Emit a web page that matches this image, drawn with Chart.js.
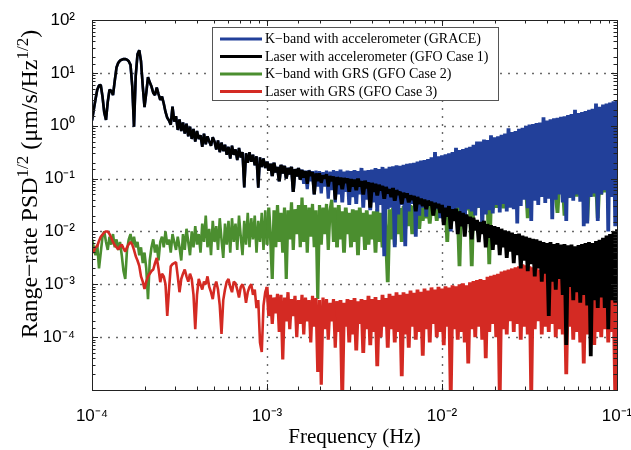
<!DOCTYPE html>
<html>
<head>
<meta charset="utf-8">
<script src="https://cdn.jsdelivr.net/npm/chart.js@4.4.1/dist/chart.umd.min.js"></script>
<style>
  html, body { margin: 0; padding: 0; background: #fff; overflow: hidden; }
  canvas { display: block; }
</style>
</head>
<body>
<canvas id="psd" width="631" height="450"></canvas>
<script>
// Frequency bins: log10(f / Hz) from -4 to -1 in steps of 0.01 (301 bins)
const FREQ_LOG_START = -4;
const FREQ_LOG_STEP = 0.01;
const FREQ_BIN_COUNT = 301;
const frequencies = Array.from({ length: FREQ_BIN_COUNT }, (_, i) => Math.pow(10, FREQ_LOG_START + i * FREQ_LOG_STEP));

// Range-rate noise spectra, one value per bin, as log10(µm/s/Hz^1/2)
const kbandAccelLog = [
  0.10, 0.30, 0.50, 0.68, 0.76, 0.77, 0.55, 0.25, 0.11, 0.45,
  0.68, 0.66, 0.58, 0.85, 1.10, 1.19, 1.23, 1.25, 1.26, 1.26,
  1.25, 1.22, 1.15, 0.75, -0.02, 0.95, 1.35, 1.43, 1.22, 0.75,
  0.35, 0.62, 0.92, 0.82, 0.74, 0.62, 0.58, 0.72, 0.60, 0.49,
  0.55, 0.42, 0.26, 0.15, 0.10, 0.02, 0.36, 0.08, 0.18, -0.08,
  0.12, -0.10, 0.06, -0.15, 0.04, -0.20, -0.02, -0.25, -0.06, -0.30,
  -0.10, -0.25, -0.18, -0.40, -0.15, -0.35, -0.20, -0.30, -0.38, -0.22,
  -0.30, -0.45, -0.28, -0.50, -0.32, -0.48, -0.36, -0.55, -0.40, -0.62,
  -0.38, -0.55, -0.45, -0.65, -0.42, -0.60, -0.50, -1.17, -0.52, -0.70,
  -0.50, -0.68, -0.55, -0.75, -0.58, -1.17, -0.60, -0.78, -0.62, -0.80,
  -0.68, -0.85, -0.72, -0.95, -0.70, -0.88, -0.78, -1.05, -0.74, -0.90,
  -0.76, -1.00, -0.80, -0.92, -0.78, -1.25, -0.82, -0.96, -0.80, -1.02,
  -0.83, -1.10, -0.85, -1.20, -0.84, -1.05, -0.86, -1.30, -0.85, -1.15,
  -0.86, -1.28, -0.88, -1.15, -0.85, -1.38, -0.87, -1.22, -0.84, -1.45,
  -0.86, -1.30, -0.83, -1.45, -0.87, -1.25, -0.85, -1.50, -0.86, -1.35,
  -0.84, -1.48, -0.86, -1.30, -0.80, -1.55, -0.85, -1.40, -0.84, -1.60,
  -0.83, -1.45, -0.80, -1.62, -0.82, -1.50, -0.78, -2.47, -0.81, -1.58,
  -0.78, -1.55, -0.77, -2.30, -0.75, -1.68, -0.76, -1.50, -0.74, -2.28,
  -0.72, -1.62, -0.71, -1.48, -0.70, -2.10, -0.68, -1.70, -0.66, -1.55,
  -0.65, -1.72, -0.63, -1.45, -0.60, -1.65, -0.50, -1.58, -0.58, -1.75,
  -0.56, -1.60, -0.54, -1.70, -0.52, -2.00, -0.50, -1.66, -0.42, -1.55,
  -0.46, -1.72, -0.44, -1.95, -0.42, -1.58, -0.40, -1.62, -0.36, -1.70,
  -0.30, -1.55, -0.30, -2.00, -0.26, -1.68, -0.27, -1.60, -0.18, -1.66,
  -0.22, -1.50, -0.20, -1.64, -0.17, -1.48, -0.15, -1.62, -0.05, -1.55,
  -0.12, -1.58, -0.10, -1.85, -0.06, -1.52, -0.04, -1.40, 0.00, -1.56,
  0.02, -1.80, 0.03, -1.42, 0.05, -1.50, 0.06, -1.35, 0.16, -1.46,
  0.10, -1.38, 0.12, -1.77, 0.14, -1.40, 0.15, -1.30, 0.17, -1.45,
  0.18, -1.80, 0.20, -1.36, 0.22, -1.42, 0.30, -1.30, 0.24, -1.44,
  0.26, -1.90, 0.28, -1.85, 0.30, -1.35, 0.32, -1.28, 0.42, -1.80,
  0.36, -1.30, 0.40, -1.22, 0.42, -2.00, 0.44, -1.35, 0.46, -1.90, 0.48
];

const laserAccelLog = [
  0.10, 0.30, 0.50, 0.68, 0.76, 0.77, 0.55, 0.25, 0.11, 0.45,
  0.68, 0.66, 0.58, 0.85, 1.10, 1.19, 1.23, 1.25, 1.26, 1.26,
  1.25, 1.22, 1.15, 0.75, -0.02, 0.95, 1.35, 1.43, 1.22, 0.75,
  0.35, 0.62, 0.92, 0.82, 0.74, 0.62, 0.58, 0.72, 0.60, 0.49,
  0.55, 0.42, 0.26, 0.15, 0.10, 0.02, 0.36, 0.08, 0.18, -0.08,
  0.12, -0.10, 0.06, -0.15, 0.04, -0.20, -0.02, -0.25, -0.06, -0.30,
  -0.10, -0.25, -0.18, -0.40, -0.15, -0.35, -0.20, -0.30, -0.38, -0.22,
  -0.30, -0.45, -0.28, -0.50, -0.32, -0.48, -0.36, -0.55, -0.40, -0.62,
  -0.38, -0.55, -0.45, -0.65, -0.42, -0.60, -0.50, -1.17, -0.52, -0.70,
  -0.50, -0.68, -0.55, -0.75, -0.58, -1.17, -0.60, -0.78, -0.62, -0.80,
  -0.68, -0.85, -0.72, -0.95, -0.70, -0.88, -0.78, -1.05, -0.74, -0.90,
  -0.76, -1.00, -0.80, -0.92, -0.78, -1.25, -0.82, -0.96, -0.80, -1.02,
  -0.84, -0.98, -0.86, -1.10, -0.85, -0.95, -0.88, -1.30, -0.90, -1.05,
  -0.90, -1.08, -0.94, -1.00, -0.92, -1.15, -0.95, -1.05, -0.96, -1.40,
  -0.97, -1.12, -0.98, -1.20, -0.99, -1.08, -1.00, -1.25, -1.01, -1.15,
  -1.02, -1.22, -1.00, -1.15, -1.05, -1.30, -1.04, -1.18, -1.07, -1.55,
  -1.08, -1.25, -1.10, -1.32, -1.12, -1.22, -1.14, -1.38, -1.16, -1.28,
  -1.20, -1.35, -1.18, -1.42, -1.22, -1.30, -1.25, -1.48, -1.27, -1.36,
  -1.28, -1.45, -1.32, -1.40, -1.33, -1.62, -1.35, -1.48, -1.38, -1.52,
  -1.40, -1.58, -1.42, -1.50, -1.44, -1.70, -1.46, -1.55, -1.48, -1.65,
  -1.50, -1.88, -1.55, -1.72, -1.52, -1.95, -1.58, -1.80, -1.57, -2.05,
  -1.62, -1.90, -1.65, -2.10, -1.68, -1.85, -1.72, -2.15, -1.74, -1.98,
  -1.78, -2.20, -1.82, -2.05, -1.80, -2.30, -1.86, -2.12, -1.88, -2.35,
  -1.90, -2.25, -1.92, -2.45, -1.95, -2.30, -1.98, -2.50, -2.00, -2.38,
  -2.02, -2.60, -2.05, -2.45, -2.04, -2.70, -2.08, -2.55, -2.10, -2.75,
  -2.12, -2.62, -2.14, -2.85, -2.15, -2.70, -2.18, -2.95, -2.20, -2.80,
  -2.22, -3.60, -2.20, -2.95, -2.24, -3.10, -2.22, -2.90, -2.25, -3.20,
  -2.24, -4.15, -2.26, -3.05, -2.25, -3.30, -2.28, -3.15, -2.26, -3.35,
  -2.24, -3.20, -2.22, -3.40, -2.20, -4.36, -2.22, -3.30, -2.18, -3.45,
  -2.16, -3.25, -2.12, -3.45, -2.08, -3.85, -2.05, -3.30, -2.00, -3.35, -1.96
];

const kbandGrsLog = [
  -2.15, -2.30, -2.45, -2.25, -2.70, -2.40, -2.10, -2.00, -2.20, -2.35,
  -2.10, -2.25, -2.05, -2.30, -2.15, -2.35, -2.20, -2.45, -2.75, -2.90,
  -2.35, -2.15, -2.05, -2.25, -2.10, -2.30, -2.20, -2.45, -2.30, -2.60,
  -2.40, -2.70, -3.28, -2.55, -2.30, -2.15, -2.40, -2.25, -2.55, -2.20,
  -2.10, -2.30, -2.00, -2.25, -2.15, -2.40, -2.05, -2.20, -2.35, -2.10,
  -2.30, -2.55, -2.05, -2.35, -1.95, -2.20, -2.45, -2.00, -2.30, -1.90,
  -2.25, -2.05, -2.40, -1.85, -2.20, -1.70, -2.30, -1.95, -2.45, -1.80,
  -2.20, -1.90, -2.35, -1.75, -2.15, -2.50, -1.85, -2.25, -1.80, -2.40,
  -1.75, -2.20, -1.85, -2.35, -1.70, -2.10, -2.45, -1.80, -2.25, -1.65,
  -2.30, -1.75, -2.15, -1.70, -2.40, -1.80, -2.20, -1.65, -2.35, -1.60,
  -2.25, -1.55, -2.10, -2.90, -1.60, -2.30, -1.50, -2.20, -1.65, -2.40,
  -1.55, -2.90, -1.60, -2.15, -1.45, -2.35, -1.58, -2.05, -1.50, -2.30,
  -1.36, -2.20, -1.50, -2.40, -1.55, -2.10, -1.48, -2.30, -1.60, -3.28,
  -1.50, -2.25, -1.55, -2.05, -1.48, -2.35, -1.60, -1.40, -2.20, -1.55,
  -2.30, -1.50, -2.15, -1.62, -2.40, -1.55, -2.05, -1.65, -2.30, -1.58,
  -2.20, -1.60, -2.45, -1.55, -2.10, -1.65, -2.35, -1.60, -2.25, -1.68,
  -2.15, -1.62, -2.40, -1.58, -2.20, -1.65, -2.30, -1.60, -2.10, -2.96,
  -1.58, -2.15, -1.55, -2.25, -1.60, -2.05, -1.56, -2.20, -1.52, -1.95,
  -1.55, -1.90, -1.50, -2.05, -1.52, -1.85, -1.48, -1.95, -1.50, -1.80,
  -1.46, -1.75, -1.50, -1.85, -1.44, -1.70, -1.48, -1.80, -1.45, -1.68,
  -1.40, -1.58, -1.38, -2.20, -1.42, -1.60, -1.36, -1.55, -1.40, -1.62,
  -2.66, -1.38, -1.56, -1.35, -1.60, -1.38, -1.55, -2.66, -1.34, -1.58,
  -1.36, -1.55, -1.34, -1.60, -1.36, -1.52, -1.32, -2.62, -1.34, -1.58,
  -1.30, -1.55, -1.32, -1.50, -1.28, -1.56, -1.30, -1.52, -1.28, -1.50,
  -1.15, -1.32, -1.12, -1.28, -1.16, -1.38, -1.10, -1.30, -1.14, -1.75,
  -1.12, -1.34, -1.10, -1.28, -1.14, -1.36, -1.08, -1.30, -1.12, -1.26,
  -1.08, -1.35, -1.06, -1.30, -1.10, -1.32, -1.65, -1.06, -1.28, -1.08,
  -1.70, -1.06, -1.28, -1.36, -1.04, -1.30, -1.08, -1.34, -1.04, -1.28,
  -1.06, -1.32, -1.04, -1.80, -1.08, -1.28, -1.02, -1.34, -1.06, -1.75,
  -1.02, -1.30, -1.04, -1.26, -1.00, -1.32, -1.04, -1.28, -1.02, -1.30, -1.00
];

const laserGrsLog = [
  -2.40, -2.38, -2.30, -2.28, -2.18, -2.10, -2.06, -2.02, -2.00, -2.00,
  -2.05, -2.12, -2.20, -2.26, -2.30, -2.34, -2.28, -2.25, -2.32, -2.38,
  -2.30, -2.24, -2.20, -2.25, -2.35, -2.47, -2.55, -2.65, -2.85, -2.95,
  -3.09, -2.95, -2.85, -2.80, -2.75, -2.72, -2.60, -2.50, -2.70, -2.96,
  -2.80, -2.85, -3.00, -3.60, -3.10, -2.66, -2.62, -2.60, -2.58, -2.85,
  -3.15, -2.90, -2.80, -2.72, -2.85, -2.95, -2.80, -2.90, -3.20, -3.85,
  -3.20, -2.90, -3.00, -3.10, -2.95, -3.00, -2.85, -3.05, -3.15, -3.28,
  -3.05, -2.95, -3.10, -3.40, -3.94, -3.30, -3.10, -2.95, -2.90, -3.05,
  -3.15, -2.95, -2.98, -3.10, -3.25, -3.05, -3.00, -3.10, -3.35, -3.15,
  -3.05, -3.00, -3.20, -3.10, -3.45, -3.30, -4.10, -4.28, -3.40, -3.15,
  -3.05, -3.60, -3.20, -3.75, -3.25, -3.55, -3.18, -3.90, -3.20, -4.42,
  -3.25, -3.70, -3.15, -3.85, -3.28, -3.60, -3.22, -4.00, -3.30, -3.75,
  -3.20, -3.95, -3.25, -3.70, -3.30, -4.10, -3.22, -3.80, -3.26, -4.66,
  -3.30, -4.90, -3.25, -3.85, -3.28, -4.05, -3.35, -3.70, -3.28, -4.20,
  -3.32, -3.90, -3.30, -5.10, -3.35, -3.80, -3.28, -4.10, -3.30, -3.95,
  -3.26, -4.25, -3.32, -3.75, -3.28, -4.30, -3.30, -3.85, -3.22, -4.15,
  -3.28, -3.90, -3.24, -4.55, -3.30, -4.00, -3.20, -3.80, -3.26, -4.20,
  -3.18, -3.85, -3.22, -4.10, -3.15, -3.90, -3.20, -4.74, -3.15, -3.95,
  -3.18, -4.20, -3.12, -3.80, -3.16, -4.05, -3.10, -3.90, -3.14, -4.35,
  -3.08, -3.85, -3.12, -4.10, -3.06, -3.75, -3.10, -4.00, -3.05, -3.90,
  -3.08, -4.15, -3.04, -3.80, -3.06, -5.10, -3.02, -3.85, -3.04, -4.05,
  -3.00, -3.90, -2.98, -4.10, -3.02, -4.50, -2.96, -3.85, -2.94, -4.00,
  -2.92, -3.80, -2.90, -4.05, -2.92, -4.40, -2.86, -3.90, -2.84, -3.75,
  -2.82, -4.00, -2.80, -5.10, -2.76, -3.85, -2.74, -3.95, -2.72, -3.70,
  -2.70, -3.90, -2.68, -3.75, -2.66, -4.05, -2.62, -3.80, -2.64, -3.95,
  -2.66, -5.10, -2.68, -3.85, -2.70, -3.70, -2.72, -3.95, -2.74, -3.80,
  -2.76, -3.90, -2.78, -3.75, -2.80, -4.00, -2.80, -3.85, -2.82, -3.95,
  -2.84, -4.70, -2.85, -3.80, -2.86, -4.05, -2.88, -3.90, -2.88, -4.10,
  -2.90, -4.50, -2.90, -3.95, -2.92, -3.80, -2.92, -4.15, -2.94, -3.90,
  -2.95, -4.00, -2.96, -3.85, -2.97, -4.10, -2.98, -3.90, -2.99, -5.10, -3.00
];

const seriesLabels = [
  'K\u2212band with accelerometer (GRACE)',
  'Laser with accelerometer (GFO Case 1)',
  'K\u2212band with GRS (GFO Case 2)',
  'Laser with GRS (GFO Case 3)'
];
const seriesColors = ['#22409a', '#000000', '#4b8e2f', '#d42a23'];

const xTickExponents = [-4, -3, -2, -1];
const xTickLabels = ['10\u207B\u2074', '10\u207B\u00B3', '10\u207B\u00B2', '10\u207B\u00B9'];
const yTickExponents = [2, 1, 0, -1, -2, -3, -4];
const yTickLabels = ['10\u00B2', '10\u00B9', '10\u2070', '10\u207B\u00B9', '10\u207B\u00B2', '10\u207B\u00B3', '10\u207B\u2074'];

const yTitleParts = [
  { text: 'Range\u2212rate PSD' },
  { text: '1/2', sup: true },
  { text: ' (\u03BCm/s/Hz' },
  { text: '1/2', sup: true },
  { text: ')' }
];

const SERIF = "'Liberation Serif', 'Times New Roman', serif";
const SANS = "'Liberation Sans', Arial, Helvetica, sans-serif";

function decadeOf(v) {
  const e = Math.log10(v);
  const r = Math.round(e);
  return Math.abs(e - r) < 1e-6 ? r : null;
}

function tickLabeller(exps, labels) {
  return (value) => {
    const d = decadeOf(value);
    if (d === null) return '';
    const k = exps.indexOf(d);
    return k >= 0 ? labels[k] : '';
  };
}

// Heavier strokes where the spectrum is densely sampled (high frequencies)
function segmentWidth(ctx) {
  const f = frequencies[ctx.p0DataIndex];
  if (f >= 2.5e-3) return 3.8;
  if (f >= 1e-3) return 3.2;
  return 2.6;
}

function makeDataset(index, logValues, drawOrder) {
  return {
    label: seriesLabels[index],
    data: logValues.map((v, i) => ({ x: frequencies[i], y: Math.pow(10, v) })),
    borderColor: seriesColors[index],
    backgroundColor: seriesColors[index],
    borderWidth: 2.6,
    segment: { borderWidth: segmentWidth },
    pointRadius: 0,
    tension: 0,
    fill: false,
    borderJoinStyle: 'bevel',
    order: drawOrder
  };
}

// Dotted decade grid under the curves
const decadeGrid = {
  id: 'decadeGrid',
  beforeDatasetsDraw(chart) {
    const { ctx, chartArea: a, scales: { x, y } } = chart;
    ctx.save();
    ctx.strokeStyle = '#6a6a6a';
    ctx.lineWidth = 1.4;
    ctx.setLineDash([2, 6]);
    ctx.beginPath();
    for (const t of x.ticks) {
      if (decadeOf(t.value) === null) continue;
      const px = Math.round(x.getPixelForValue(t.value)) + 0.5;
      if (px <= a.left + 1 || px >= a.right - 1) continue;
      ctx.moveTo(px, a.top); ctx.lineTo(px, a.bottom);
    }
    for (const t of y.ticks) {
      if (decadeOf(t.value) === null) continue;
      const py = Math.round(y.getPixelForValue(t.value)) + 0.5;
      if (py <= a.top + 1 || py >= a.bottom - 1) continue;
      ctx.moveTo(a.left, py); ctx.lineTo(a.right, py);
    }
    ctx.stroke();
    ctx.restore();
  }
};

// Axes box with inward tick marks, then the legend box
const frameAndLegend = {
  id: 'frameAndLegend',
  afterDatasetsDraw(chart) {
    const { ctx, chartArea: a, scales: { x, y } } = chart;
    ctx.save();
    ctx.strokeStyle = '#222';
    ctx.lineWidth = 1;
    ctx.beginPath();
    for (const t of x.ticks) {
      const px = Math.round(x.getPixelForValue(t.value)) + 0.5;
      if (px < a.left || px > a.right) continue;
      const len = decadeOf(t.value) === null ? 3.5 : 6;
      ctx.moveTo(px, a.bottom); ctx.lineTo(px, a.bottom - len);
      ctx.moveTo(px, a.top); ctx.lineTo(px, a.top + len);
    }
    for (const t of y.ticks) {
      const py = Math.round(y.getPixelForValue(t.value)) + 0.5;
      if (py < a.top || py > a.bottom) continue;
      const len = decadeOf(t.value) === null ? 3.5 : 6;
      ctx.moveTo(a.left, py); ctx.lineTo(a.left + len, py);
      ctx.moveTo(a.right, py); ctx.lineTo(a.right - len, py);
    }
    ctx.stroke();
    ctx.strokeRect(Math.round(a.left) + 0.5, Math.round(a.top) + 0.5,
                   Math.round(a.right - a.left), Math.round(a.bottom - a.top));

    // legend
    const box = { left: 212, top: 27, width: 286, height: 73 };
    ctx.fillStyle = '#fff';
    ctx.fillRect(box.left, box.top, box.width, box.height);
    ctx.strokeStyle = '#555';
    ctx.lineWidth = 1;
    ctx.strokeRect(box.left + 0.5, box.top + 0.5, box.width, box.height);
    ctx.font = '14px ' + SERIF;
    ctx.textBaseline = 'middle';
    ctx.textAlign = 'left';
    ctx.setLineDash([]);
    chart.data.datasets.forEach((ds, i) => {
      const rowY = box.top + 12 + i * 17.5;
      ctx.strokeStyle = ds.borderColor;
      ctx.lineWidth = 2.8;
      ctx.beginPath();
      ctx.moveTo(box.left + 8, rowY);
      ctx.lineTo(box.left + 50, rowY);
      ctx.stroke();
      ctx.fillStyle = '#000';
      ctx.fillText(ds.label, box.left + 53, rowY + 0.5);
    });
    ctx.restore();
  }
};

// Rotated y-axis title with superscripts
const yAxisTitle = {
  id: 'yAxisTitle',
  afterDraw(chart) {
    const ctx = chart.ctx;
    const mainFont = '24px ' + SERIF;
    const supFont = '17px ' + SERIF;
    ctx.save();
    ctx.fillStyle = '#000';
    ctx.textBaseline = 'alphabetic';
    ctx.textAlign = 'left';
    let total = 0;
    for (const p of yTitleParts) {
      ctx.font = p.sup ? supFont : mainFont;
      total += ctx.measureText(p.text).width;
    }
    const centerY = 184;
    ctx.translate(37, centerY + total / 2);
    ctx.rotate(-Math.PI / 2);
    let cx = 0;
    for (const p of yTitleParts) {
      ctx.font = p.sup ? supFont : mainFont;
      ctx.fillText(p.text, cx, p.sup ? -9 : 0);
      cx += ctx.measureText(p.text).width;
    }
    ctx.restore();
  }
};

new Chart(document.getElementById('psd'), {
  type: 'line',
  data: {
    datasets: [
      makeDataset(0, kbandAccelLog, 3),
      makeDataset(1, laserAccelLog, 1),
      makeDataset(2, kbandGrsLog, 4),
      makeDataset(3, laserGrsLog, 2)
    ]
  },
  options: {
    responsive: false,
    animation: false,
    devicePixelRatio: 1,
    layout: { padding: { top: 20, right: 14, bottom: 0, left: 0 } },
    plugins: { legend: { display: false }, tooltip: { enabled: false } },
    scales: {
      x: {
        type: 'logarithmic',
        position: 'bottom',
        min: 1e-4,
        max: 1e-1,
        afterFit: (s) => { s.height = 60; s.paddingLeft = 0; s.paddingRight = 0; },
        grid: { display: false },
        border: { display: false },
        ticks: {
          autoSkip: false,
          maxRotation: 0,
          minRotation: 0,
          padding: 8,
          color: '#000',
          font: { family: SANS, size: 17 },
          callback: tickLabeller(xTickExponents, xTickLabels)
        },
        title: {
          display: true,
          text: 'Frequency (Hz)',
          color: '#000',
          font: { family: SERIF, size: 21 },
          padding: { top: 0, bottom: 0 }
        }
      },
      y: {
        type: 'logarithmic',
        position: 'left',
        min: 1e-5,
        max: 1e2,
        afterFit: (s) => { s.width = 92; },
        grid: { display: false },
        border: { display: false },
        ticks: {
          autoSkip: false,
          padding: 9,
          color: '#000',
          font: { family: SANS, size: 17 },
          callback: tickLabeller(yTickExponents, yTickLabels)
        }
      }
    }
  },
  plugins: [decadeGrid, frameAndLegend, yAxisTitle]
});
</script>
</body>
</html>
